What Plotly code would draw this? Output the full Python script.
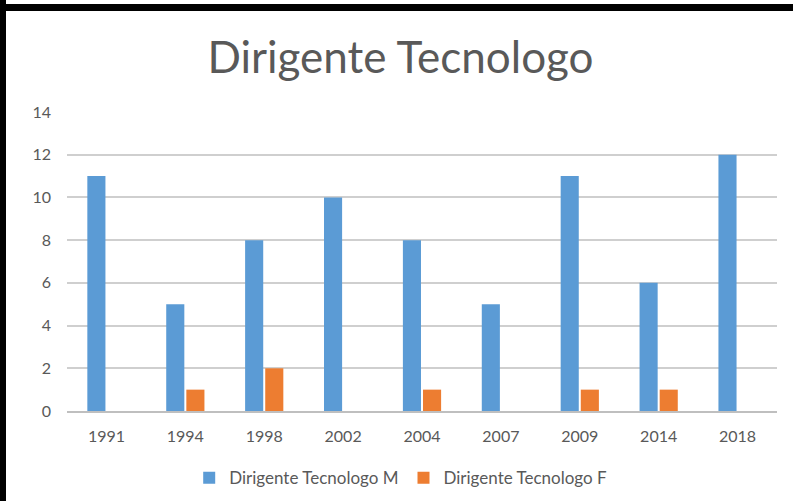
import plotly.graph_objects as go

# ------------------------------------------------------------------ data
YEARS = ["1991", "1994", "1998", "2002", "2004", "2007", "2009", "2014", "2018"]
MALE = [11, 5, 8, 10, 8, 5, 11, 6, 12]
FEMALE = [0, 1, 2, 0, 1, 0, 1, 1, 0]
Y_TICKS = [0, 2, 4, 6, 8, 10, 12, 14]

BLUE = "#5B9BD5"
ORANGE = "#ED7D31"
TEXT = "#595959"
GRID = "#CFCFCF"
FONT = "Lato, Open Sans, sans-serif"

fig = go.Figure()
fig.add_trace(go.Bar(x=YEARS, y=MALE, name="Dirigente Tecnologo M",
                     marker=dict(color=BLUE, line=dict(width=0))))
fig.add_trace(go.Bar(x=YEARS, y=FEMALE, name="Dirigente Tecnologo F",
                     marker=dict(color=ORANGE, line=dict(width=0))))

fig.update_layout(
    width=793, height=501,
    margin=dict(l=67, r=16, t=112, b=90, autoexpand=False),
    paper_bgcolor="white", plot_bgcolor="white",
    font=dict(family=FONT, size=16, color=TEXT),
    title=dict(text="Dirigente Tecnologo", x=0.505, xanchor="center",
               y=0.885, yanchor="middle",
               font=dict(size=44, color=TEXT, family=FONT)),
    barmode="group", bargap=0.49, bargroupgap=0.1,
    showlegend=True,
    legend=dict(orientation="h", x=0.47, xanchor="center", y=-0.225,
                yanchor="middle", font=dict(size=17, color=TEXT),
                itemwidth=30, traceorder="normal"),
)
fig.update_yaxes(range=[0, 14], tickvals=Y_TICKS, showgrid=True,
                 gridcolor=GRID, gridwidth=1.5, zeroline=False,
                 showline=False, ticks="", ticklabelstandoff=15)
fig.update_xaxes(showline=True, linecolor="#BFBFBF", linewidth=1.5,
                 showgrid=False, ticks="", ticklabelstandoff=10)

# black frame edges visible in the screenshot
fig.add_shape(type="rect", xref="paper", yref="paper", layer="above",
              x0=-67 / 710, x1=-61 / 710, y0=-90 / 299, y1=411 / 299,
              fillcolor="black", line=dict(width=0))
fig.add_shape(type="rect", xref="paper", yref="paper", layer="above",
              x0=-67 / 710, x1=726 / 710, y0=(411 - 4) / 299, y1=(411 - 11) / 299,
              fillcolor="black", line=dict(width=0))

fig.write_html("out.html", config={"displayModeBar": False},
               post_script="document.body.style.margin='0';")
